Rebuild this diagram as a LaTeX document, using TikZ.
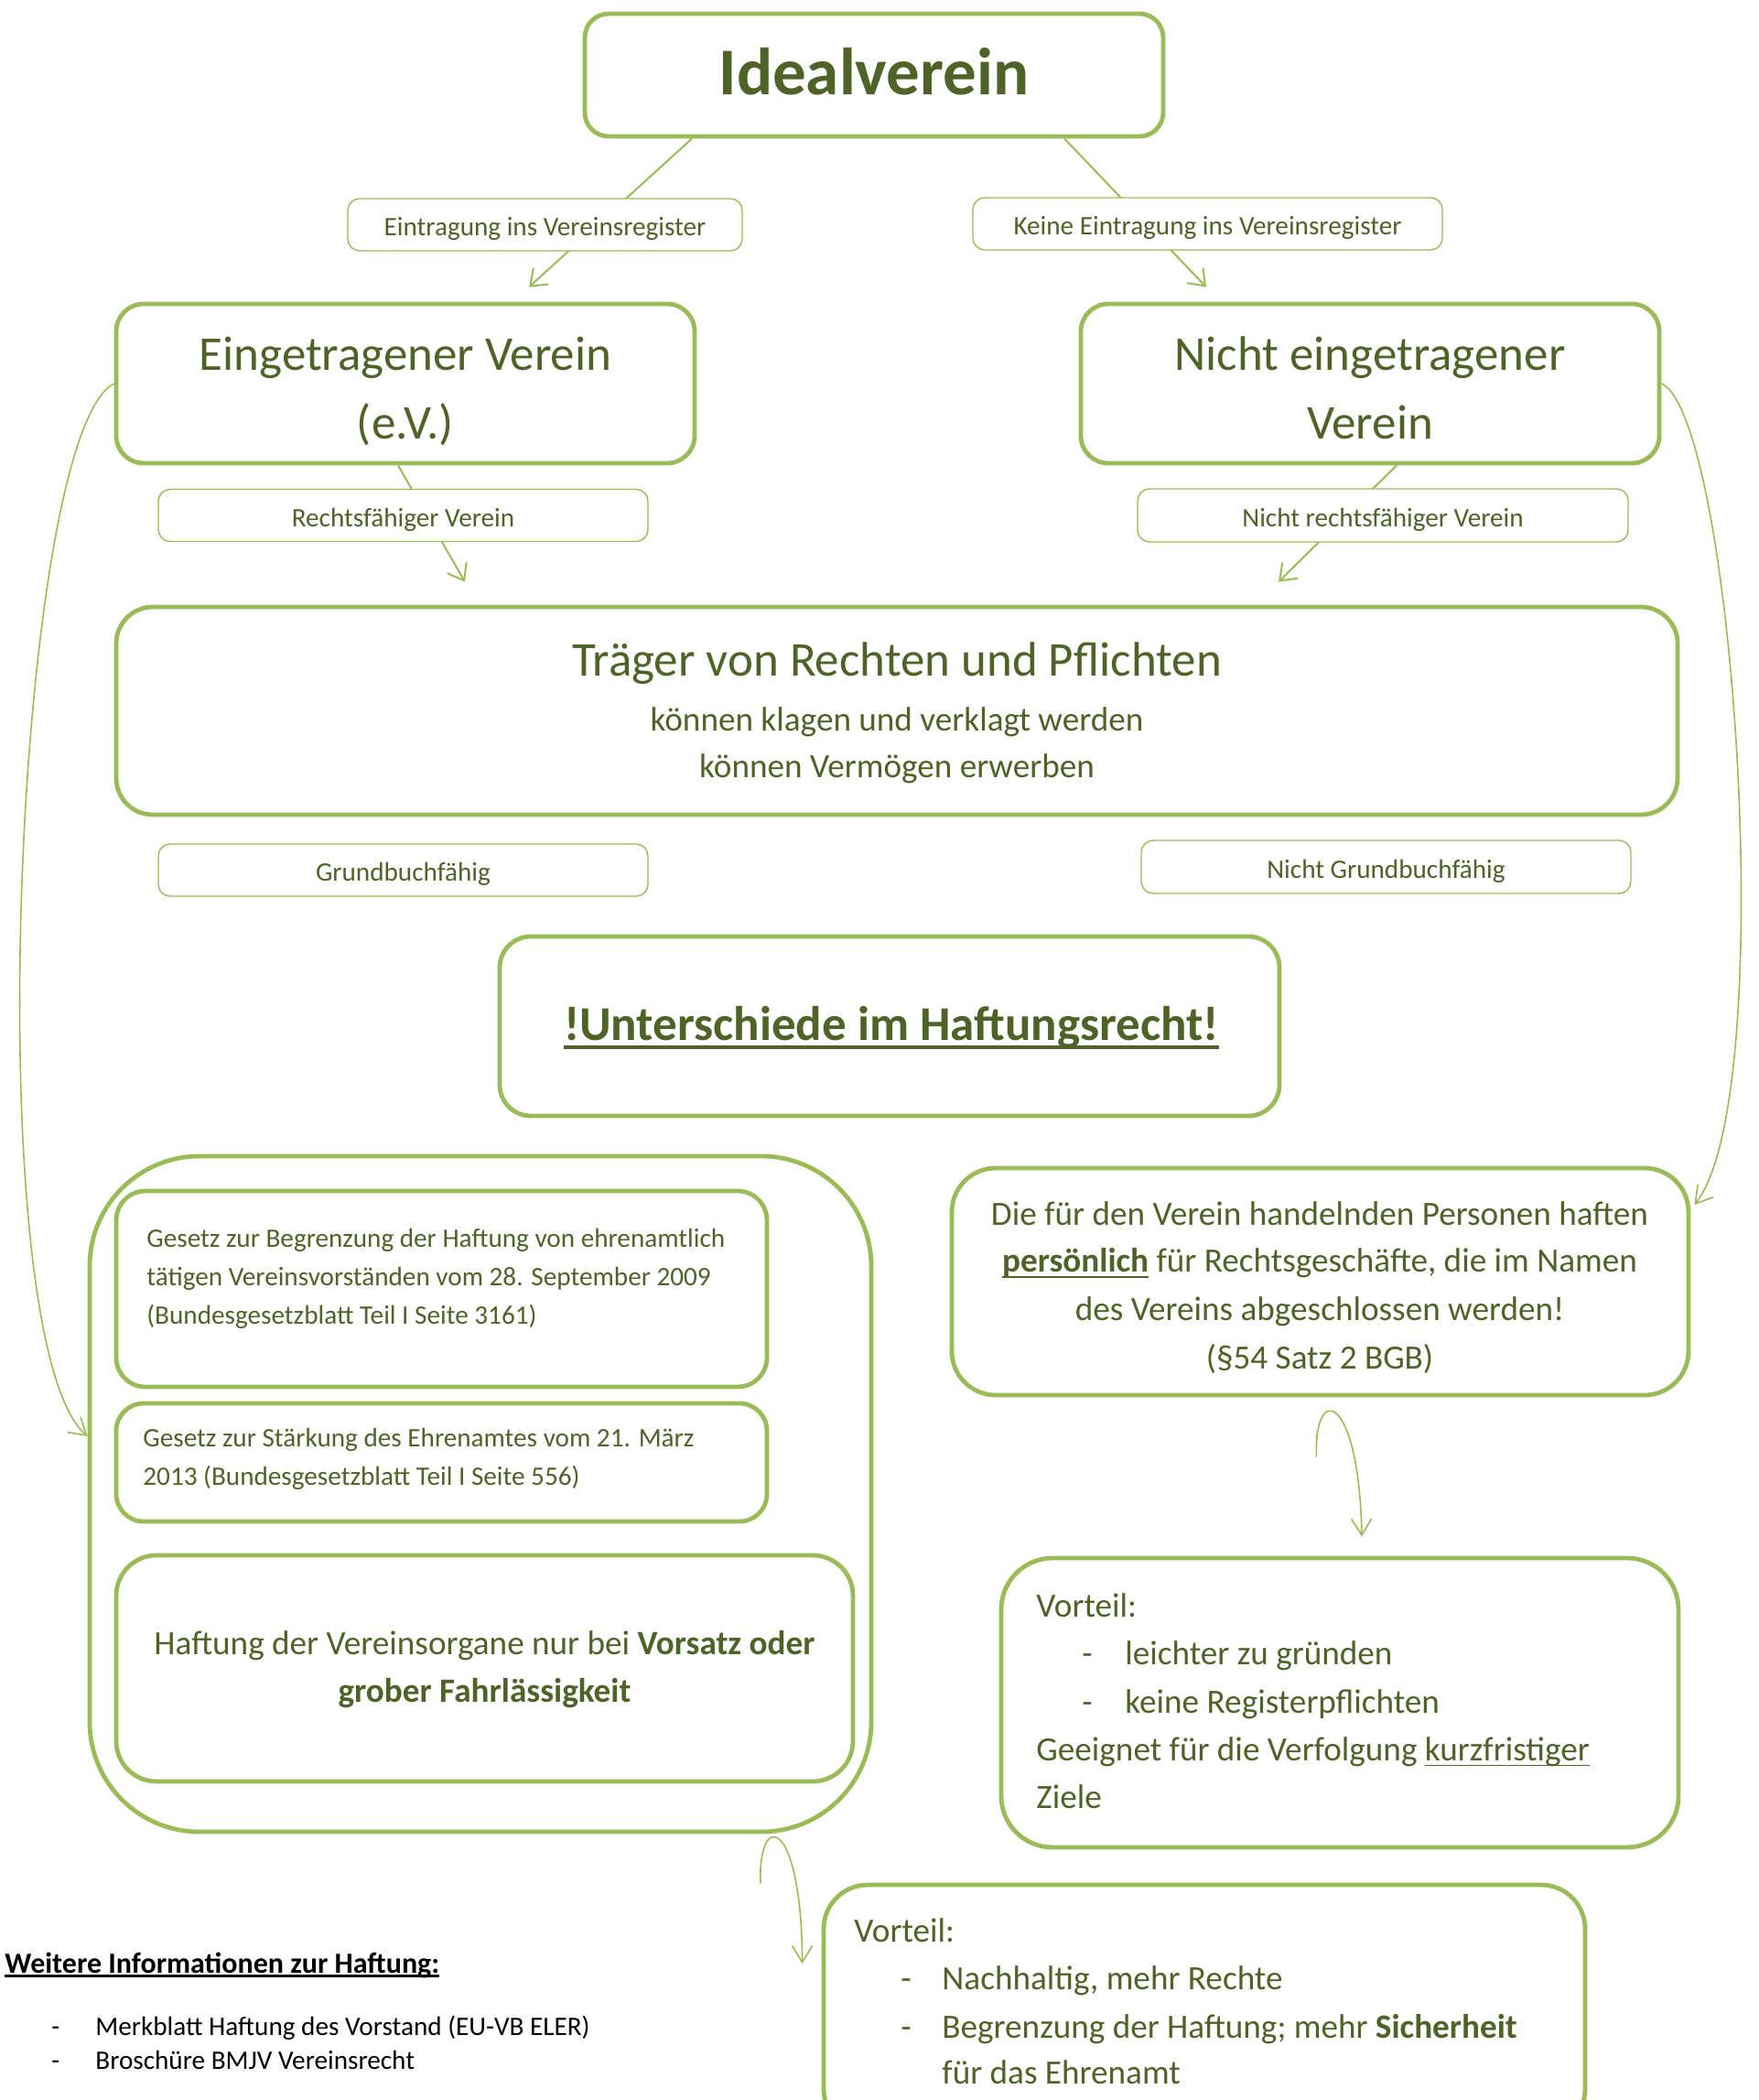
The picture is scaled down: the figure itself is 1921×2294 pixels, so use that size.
\documentclass[tikz,border=0pt]{standalone}
\usepackage{fontspec}
\setmainfont{Carlito}
\usetikzlibrary{arrows.meta,calc}
\definecolor{tg}{HTML}{4F6228}
\definecolor{bg}{HTML}{9BBB59}
\newsavebox{\ulbox}
\newcommand{\myul}[3]{\sbox{\ulbox}{#3}\rlap{\raisebox{-#2}{\rule{\wd\ulbox}{#1}}}\usebox{\ulbox}}
\newcommand{\fhuge}{\fontsize{36.5pt}{44pt}\selectfont}
\newcommand{\fbig}{\fontsize{26.5pt}{32pt}\selectfont}
\newcommand{\fmed}{\fontsize{18.6pt}{22pt}\selectfont}
\newcommand{\fsmall}{\fontsize{14.6pt}{18pt}\selectfont}
\newcommand{\fhead}{\fontsize{16pt}{19pt}\selectfont}
\tikzset{
  box/.style={draw=bg, line width=2.4pt, fill=white, inner sep=0pt},
  lab/.style={draw=bg, line width=0.7pt, fill=white, rounded corners=6.5pt, inner sep=0pt,
    text=tg, font=\fsmall, text height=12.4pt, text depth=0pt},
  txt/.style={inner sep=0pt, text=tg},
  conn/.style={draw=bg, line width=1pt, -{Straight Barb[length=8pt,width=12pt]}},
  curv/.style={draw=bg, line width=0.8pt, -{Straight Barb[length=9pt,width=11pt]}}
}
\begin{document}
\begin{tikzpicture}[x=0.5pt,y=-0.5pt]
\clip (0,0) rectangle (1921,2294);
\fill[white] (0,0) rectangle (1921,2294);

% main boxes
\node[box, rounded corners=13pt, minimum width=316pt, minimum height=67pt] (ideal) at (955,82) {};
\node[box, rounded corners=15pt, minimum width=316pt, minimum height=87pt] (ev) at (443,419) {};
\node[box, rounded corners=15pt, minimum width=316pt, minimum height=87pt] (nev) at (1497,419) {};
\node[box, rounded corners=20pt, minimum width=853pt, minimum height=113.5pt] (trager) at (980,776.5) {};
\node[box, rounded corners=17pt, minimum width=426pt, minimum height=98pt] (unter) at (972,1121) {};
\node[box, rounded corners=60pt, minimum width=427pt, minimum height=369pt] (cont) at (525,1632) {};
\node[box, rounded corners=16pt, minimum width=355.5pt, minimum height=107pt] (boxA) at (482.5,1408) {};
\node[box, rounded corners=15pt, minimum width=355.5pt, minimum height=64.5pt] (boxB) at (482.5,1597.5) {};
\node[box, rounded corners=22pt, minimum width=402.5pt, minimum height=123.5pt] (boxC) at (529.5,1822.5) {};
\node[box, rounded corners=24pt, minimum width=402.5pt, minimum height=124pt] (rb) at (1442.5,1400) {};
\node[box, rounded corners=28pt, minimum width=370pt, minimum height=158pt] (v1) at (1464,1860) {};
\node[box, rounded corners=24pt, minimum width=416pt, minimum height=135.5pt] (v2) at (1316,2194.5) {};

% straight connectors
\draw[conn] ($(ideal.south)+(-199,0)$) -- ($(ev.north)+(135,-16)$);
\draw[conn] ($(ideal.south)+(208,0)$) -- ($(nev.north)+(-179,-16)$);
\draw[conn] ($(ev.south)+(-8,0)$) -- ($(trager.north)+(-472,-25)$);
\draw[conn] ($(nev.south)+(29,0)$) -- ($(trager.north)+(417,-25)$);

% curved connectors
\draw[curv] (ev.west) .. controls (15,475) and (-25,1465) .. ($(cont.west)+(0,-63)$);
\draw[curv] (nev.east) .. controls (1895,455) and (1945,1200) .. ($(rb.east)+(4,-84)$);
\coordinate (c7) at ($(rb.south)+(-4,65)$);
\draw[curv] (c7) .. controls (1435,1510) and (1485,1520) .. ($(v1.north)+(24,-21)$);
\coordinate (c8) at ($(cont.south)+(306,54)$);
\draw[curv] (c8) .. controls (828,1975) and (876,1985) .. ($(v2.west)+(-21,-49.5)$);

% label boxes
\node[lab, minimum width=215.5pt, minimum height=28.5pt] (lab1) at (595.5,245.5) {Eintragung ins Vereinsregister};
\node[lab, minimum width=256.5pt, minimum height=28.5pt] (lab2) at (1319.5,244.5) {Keine Eintragung ins Vereinsregister};
\node[lab, minimum width=267.5pt, minimum height=28.5pt] (lab3) at (440.5,563) {Rechtsfähiger Verein};
\node[lab, minimum width=268pt, minimum height=29pt] (lab4) at (1511,563) {Nicht rechtsfähiger Verein};
\node[lab, minimum width=267.5pt, minimum height=28.5pt] (lab5) at (440.5,950.5) {Grundbuchfähig};
\node[lab, minimum width=267.5pt, minimum height=29pt] (lab6) at (1514.5,947) {Nicht Grundbuchfähig};

% texts
\node[txt, font=\fhuge\bfseries, anchor=base] (tideal) at (955,104) {Idealverein};
\node[txt, font=\fbig, anchor=base] (tev1) at (443,405) {Eingetragener Verein};
\node[txt, font=\fbig, anchor=base] (tev2) at (443,480) {(e.V.)};
\node[txt, font=\fbig, anchor=base] (tnev1) at (1497,405) {Nicht eingetragener};
\node[txt, font=\fbig, anchor=base] (tnev2) at (1497,480) {Verein};

\node[txt, font=\fbig, anchor=base] (ttr1) at (980,738) {Träger von Rechten und Pflichten};
\node[txt, font=\fmed, anchor=base] (ttr2) at (980,798) {können klagen und verklagt werden};
\node[txt, font=\fmed, anchor=base] (ttr3) at (980,849) {können Vermögen erwerben};

\node[txt, font=\fbig\bfseries, anchor=base] (tunter) at (974,1136) {\myul{2pt}{5pt}{!Unterschiede im Haftungsrecht!}};

\node[txt, font=\fsmall, anchor=base west] (ta1) at (160,1362) {Gesetz zur Begrenzung der Haftung von ehrenamtlich};
\node[txt, font=\fsmall, anchor=base west] (ta2) at (160,1404) {tätigen Vereinsvorständen vom 28. September 2009};
\node[txt, font=\fsmall, anchor=base west] (ta3) at (160,1446) {(Bundesgesetzblatt Teil I Seite 3161)};
\node[txt, font=\fsmall, anchor=base west] (tb1) at (156,1580) {Gesetz zur Stärkung des Ehrenamtes vom 21. März};
\node[txt, font=\fsmall, anchor=base west] (tb2) at (156,1622) {2013 (Bundesgesetzblatt Teil I Seite 556)};
\node[txt, font=\fmed, anchor=base] (tc1) at (529.5,1807) {Haftung der Vereinsorgane nur bei \textbf{Vorsatz oder}};
\node[txt, font=\fmed, anchor=base] (tc2) at (529.5,1859) {\textbf{grober Fahrlässigkeit}};

\node[txt, font=\fmed, anchor=base] (tr1) at (1442,1338) {Die für den Verein handelnden Personen haften};
\node[txt, font=\fmed, anchor=base] (tr2) at (1442,1389) {\myul{1pt}{3.5pt}{\textbf{persönlich}} für Rechtsgeschäfte, die im Namen};
\node[txt, font=\fmed, anchor=base] (tr3) at (1442,1442) {des Vereins abgeschlossen werden!};
\node[txt, font=\fmed, anchor=base] (tr4) at (1442,1495) {(§54 Satz 2 BGB)};

\node[txt, font=\fmed, anchor=base west] (tv1a) at (1132,1766) {Vorteil:};
\node[txt, font=\fmed, anchor=base west] (tv1b) at (1182,1818) {-};
\node[txt, font=\fmed, anchor=base west] (tv1c) at (1229,1818) {leichter zu gründen};
\node[txt, font=\fmed, anchor=base west] (tv1d) at (1182,1871) {-};
\node[txt, font=\fmed, anchor=base west] (tv1e) at (1229,1871) {keine Registerpflichten};
\node[txt, font=\fmed, anchor=base west] (tv1f) at (1132,1923) {Geeignet für die Verfolgung \myul{0.8pt}{3.2pt}{kurzfristiger}};
\node[txt, font=\fmed, anchor=base west] (tv1g) at (1132,1975) {Ziele};

\node[txt, font=\fmed, anchor=base west] (tv2a) at (933,2121) {Vorteil:};
\node[txt, font=\fmed, anchor=base west] (tv2b) at (984,2173) {-};
\node[txt, font=\fmed, anchor=base west] (tv2c) at (1029,2173) {Nachhaltig, mehr Rechte};
\node[txt, font=\fmed, anchor=base west] (tv2d) at (984,2226) {-};
\node[txt, font=\fmed, anchor=base west] (tv2e) at (1029,2226) {Begrenzung der Haftung; mehr \textbf{Sicherheit}};
\node[txt, font=\fmed, anchor=base west] (tv2f) at (1029,2276) {für das Ehrenamt};

\node[inner sep=0pt, text=black, font=\fhead\bfseries, anchor=base west] (tw) at (5,2155) {\myul{1.5pt}{2.5pt}{Weitere Informationen zur Haftung:}};
\node[inner sep=0pt, text=black, font=\fsmall, anchor=base west] (tw1d) at (56,2223) {-};
\node[inner sep=0pt, text=black, font=\fsmall, anchor=base west] (tw1) at (104,2223) {Merkblatt Haftung des Vorstand (EU-VB ELER)};
\node[inner sep=0pt, text=black, font=\fsmall, anchor=base west] (tw2d) at (56,2260) {-};
\node[inner sep=0pt, text=black, font=\fsmall, anchor=base west] (tw2) at (104,2260) {Broschüre BMJV Vereinsrecht};
\end{tikzpicture}
\end{document}
